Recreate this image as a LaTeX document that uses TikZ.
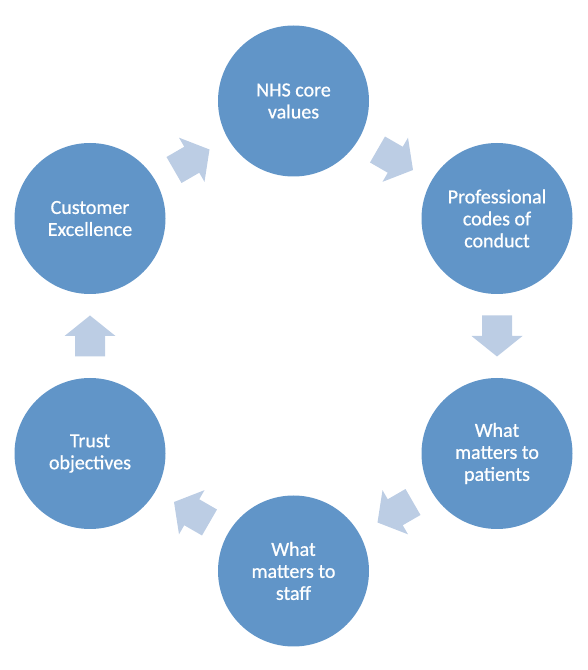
\documentclass[tikz,border=0pt]{standalone}
\usepackage{fontspec}
\setmainfont{Carlito}
\newfontfamily\stagefont{Carlito}[UprightFeatures={FakeBold=0.7}]
\usetikzlibrary{calc}
\definecolor{circblue}{RGB}{97,149,200}
\definecolor{arrowblue}{RGB}{188,205,228}
\tikzset{
  stage/.style={circle, fill=circblue, draw=none, minimum size=151pt, inner sep=0pt,
    text=white, align=center, font=\stagefont\fontsize{20}{22}\selectfont},
  cycarrow/.pic={
    \fill[arrowblue] (-20.5,-15) -- (0,-15) -- (0,-25.5) -- (20.5,0) -- (0,25.5) -- (0,15) -- (-20.5,15) -- cycle;
  }
}
\begin{document}
\begin{tikzpicture}[x=1pt,y=1pt]
\useasboundingbox (0,0) rectangle (588,670);
\node[stage] (nhs) at (293.5,569) {NHS core\\values};
\node[stage] (prof) at (497,451.5) {Professional\\codes of\\conduct};
\node[stage] (pat) at (497,216.5) {What\\matters to\\patients};
\node[stage] (staff) at (293.5,99) {What\\matters to\\staff};
\node[stage] (trust) at (90,216.5) {Trust\\objectives};
\node[stage] (cust) at (90,451.5) {Customer\\Excellence};
\pic[rotate=-30] at ($(nhs)!0.5!(prof)$) {cycarrow};
\pic[rotate=-90] at ($(prof)!0.5!(pat)$) {cycarrow};
\pic[rotate=-150] at ($(pat)!0.5!(staff)$) {cycarrow};
\pic[rotate=150] at ($(staff)!0.5!(trust)$) {cycarrow};
\pic[rotate=90] at ($(trust)!0.5!(cust)$) {cycarrow};
\pic[rotate=30] at ($(cust)!0.5!(nhs)$) {cycarrow};
\end{tikzpicture}
\end{document}
